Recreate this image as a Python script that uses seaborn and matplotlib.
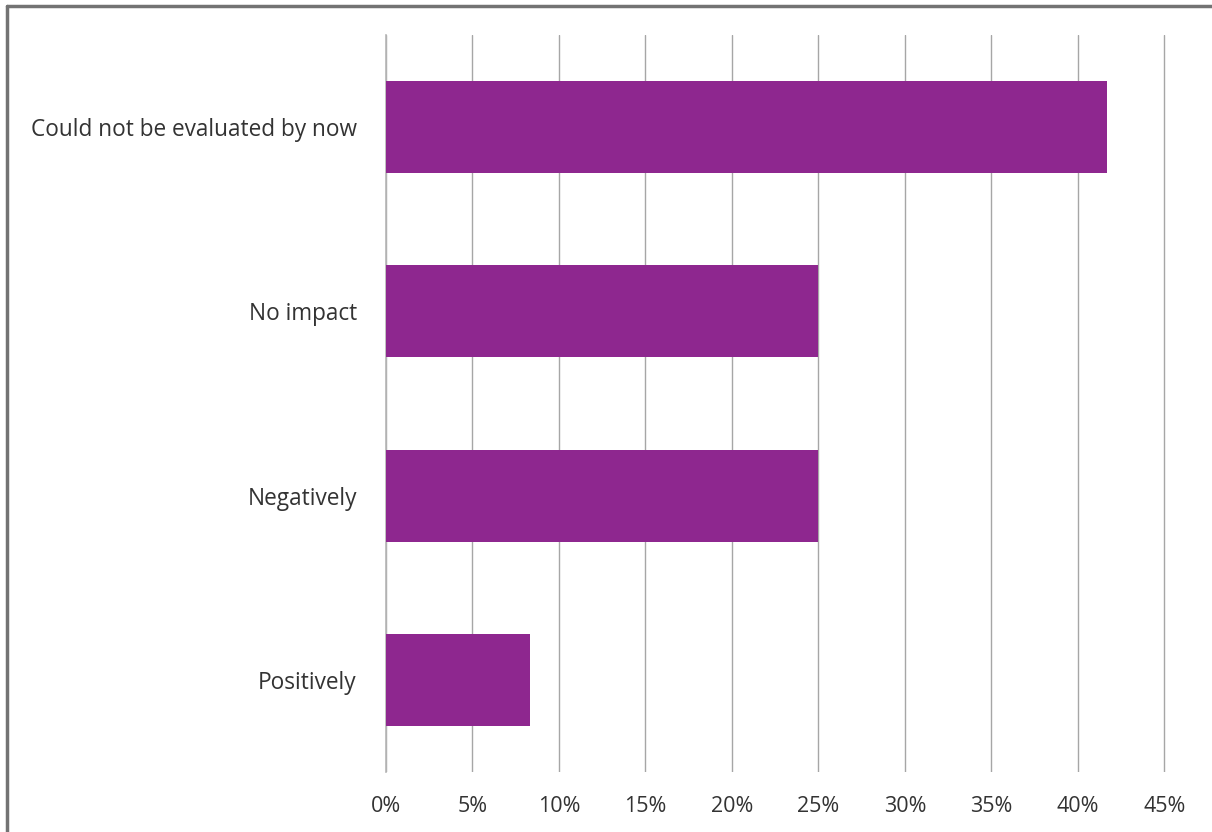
import matplotlib
matplotlib.use("Agg")
import matplotlib.pyplot as plt
from matplotlib.lines import Line2D
from matplotlib.ticker import FuncFormatter, FixedLocator
import seaborn as sns
import pandas as pd

categories = ["Could not be evaluated by now", "No impact", "Negatively", "Positively"]
values = [41.67, 25.0, 25.0, 8.33]
x_ticks = [0, 5, 10, 15, 20, 25, 30, 35, 40, 45]

sns.set_style("white")
plt.rcParams['font.family'] = ['Open Sans', 'DejaVu Sans']

df = pd.DataFrame({"category": categories, "value": values})

fig = plt.figure(figsize=(12.12, 8.32), dpi=100)
ax = fig.add_axes([386/1212, 1 - 772/832, (1166 - 386)/1212, (772 - 35)/832])

sns.barplot(data=df, x="value", y="category", orient="h", color="#8E278F",
            saturation=1, width=0.5, ax=ax, zorder=3, linewidth=0, edgecolor="none")

ax.set_xlim(0, 45.1)
ax.set_ylim(3.5, -0.5)
ax.set_xticks(x_ticks)
ax.xaxis.set_major_formatter(FuncFormatter(lambda v, p: f"{int(v)}%"))
ax.grid(axis="x", color="#a6a6a6", linewidth=1.0, zorder=0)
ax.set_axisbelow(True)

for s in ["top", "right", "bottom"]:
    ax.spines[s].set_visible(False)
ax.spines["left"].set_color("#b5b5b5")
ax.spines["left"].set_linewidth(1.2)

ax.tick_params(axis="x", length=0, pad=17, labelsize=15.5, labelcolor="#333333")
ax.tick_params(axis="y", which="major", length=0, pad=21, labelsize=16.3, labelcolor="#333333")
ax.yaxis.set_minor_locator(FixedLocator([-0.5, 0.5, 1.5, 2.5, 3.5]))
ax.tick_params(axis="y", which="minor", length=7, width=1, color="#d0d6e0")
ax.set_xlabel("")
ax.set_ylabel("")

# outer frame (left and top edges)
fig.add_artist(Line2D([7/1212, 7/1212], [0, 1 - 6/832], transform=fig.transFigure,
                      color="#737373", linewidth=2.5))
fig.add_artist(Line2D([7/1212, 1], [1 - 6/832, 1 - 6/832], transform=fig.transFigure,
                      color="#737373", linewidth=2.5))

fig.savefig("out.png", dpi=100)
